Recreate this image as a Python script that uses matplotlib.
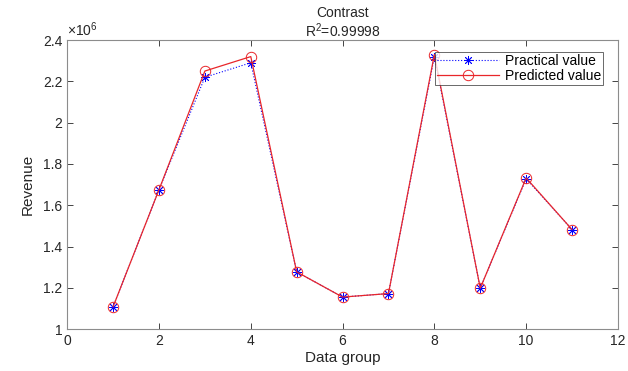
import numpy as np
import matplotlib.pyplot as plt
from matplotlib.ticker import FuncFormatter

plt.rcParams['font.family'] = ['Liberation Sans', 'DejaVu Sans']
plt.rcParams['mathtext.fontset'] = 'custom'
plt.rcParams['mathtext.rm'] = 'Liberation Sans'

# data groups and revenue values
groups = np.arange(1, 12)
practical = [1.108e6, 1.675e6, 2.22e6, 2.29e6, 1.277e6, 1.155e6,
             1.172e6, 2.32e6, 1.198e6, 1.728e6, 1.482e6]
predicted = [1.108e6, 1.675e6, 2.25e6, 2.32e6, 1.277e6, 1.155e6,
             1.172e6, 2.33e6, 1.198e6, 1.732e6, 1.482e6]
r2_text = "0.99998"

fig = plt.figure(figsize=(6.28, 3.71), dpi=100)
ax = fig.add_axes([0.107, 0.113, 0.877, 0.779])

# MATLAB-like asterisk marker: 8 spokes
ax.plot(groups, practical, color="blue", ls=":", lw=0.8, marker=(8, 2, 0),
        ms=6.5, mew=0.6, label="Practical value")
ax.plot(groups, predicted, color="#e8262a", ls="-", lw=0.9, marker="o",
        ms=7.5, mfc="none", mew=0.7, label="Predicted value")

ax.set_xlim(0, 12)
ax.set_ylim(1.0e6, 2.4e6)
ax.set_xticks(np.arange(0, 13, 2))
ax.set_yticks(np.arange(1.0e6, 2.41e6, 0.2e6))
ax.yaxis.set_major_formatter(FuncFormatter(lambda v, p: f"{v/1e6:g}"))
ax.tick_params(direction="in", top=True, right=True, length=4,
               labelsize=10, colors="#262626", width=0.6)
for sp in ax.spines.values():
    sp.set_color("#8c8c8c")
    sp.set_linewidth(0.8)

ax.text(0.0, 1.005, r"$\times10^{6}$", transform=ax.transAxes,
        fontsize=10, color="#262626", va="bottom", ha="left")
ax.set_title("Contrast\nR$^2$=" + r2_text, fontsize=10, color="#262626",
             pad=2, linespacing=1.1)
ax.set_xlabel("Data group", fontsize=11, color="#262626", labelpad=2)
ax.set_ylabel("Revenue", fontsize=11, color="#262626", labelpad=6)

leg = ax.legend(loc="upper right", bbox_to_anchor=(0.973, 0.958),
                fontsize=10, frameon=True, fancybox=False, handlelength=4.5,
                borderpad=0.15, labelspacing=0.05, handletextpad=0.4,
                borderaxespad=0)
leg.get_frame().set_edgecolor("#262626")
leg.get_frame().set_linewidth(0.6)

fig.savefig("out.png", dpi=100)
